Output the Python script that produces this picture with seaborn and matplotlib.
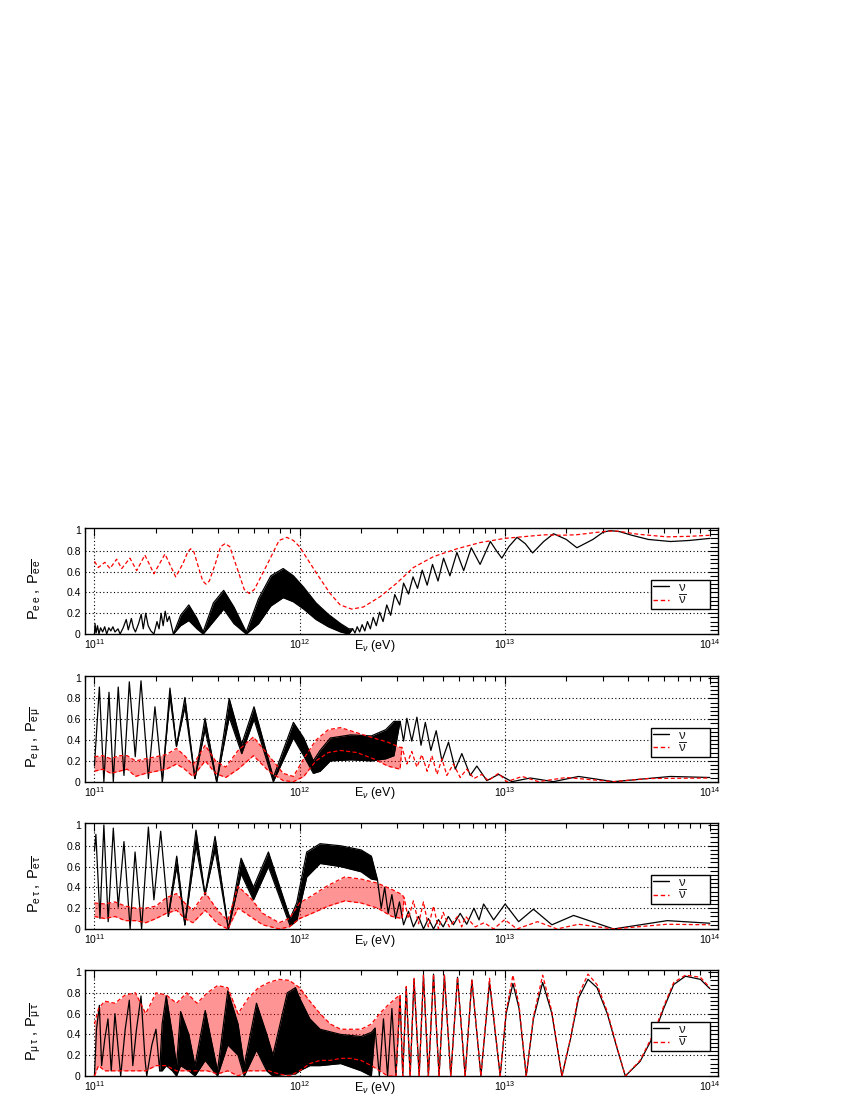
import numpy as np
import pandas as pd
import matplotlib
matplotlib.use("Agg")
import matplotlib.pyplot as plt
import seaborn as sns
from matplotlib.lines import Line2D
from matplotlib.ticker import LogLocator, MultipleLocator, FixedLocator, NullFormatter

# ---------------- data: (log10 E, value) or (log10 E, band_low, band_high) ----------------
EE_NU = [(11.0, 0.0), (11.003, 0.1), (11.008, 0.01), (11.015, 0.08), (11.022, 0.0), (11.03, 0.06),
         (11.04, 0.02), (11.05, 0.07), (11.06, 0.0), (11.07, 0.06), (11.08, 0.03), (11.09, 0.07),
         (11.1, 0.02), (11.115, 0.05), (11.125, 0.0), (11.14, 0.06), (11.155, 0.14), (11.165, 0.04),
         (11.18, 0.15), (11.19, 0.06), (11.2, 0.02), (11.215, 0.1), (11.228, 0.19), (11.238, 0.05),
         (11.25, 0.2), (11.262, 0.08), (11.275, 0.03), (11.29, 0.0), (11.305, 0.12), (11.315, 0.05),
         (11.325, 0.2), (11.335, 0.08), (11.345, 0.22), (11.355, 0.12), (11.365, 0.17), (11.385, 0.0),
         (11.42, 0.08, 0.18), (11.46, 0.13, 0.28), (11.5, 0.05, 0.15), (11.53, 0.0, 0.02),
         (11.58, 0.12, 0.3), (11.63, 0.24, 0.42), (11.68, 0.1, 0.26), (11.74, 0.0, 0.02),
         (11.8, 0.1, 0.34), (11.86, 0.27, 0.56), (11.92, 0.35, 0.63), (11.97, 0.31, 0.56),
         (12.02, 0.24, 0.45), (12.08, 0.14, 0.3), (12.14, 0.07, 0.19), (12.2, 0.02, 0.1),
         (12.24, 0.0, 0.05), (12.259, 0.05), (12.27, 0.01), (12.281, 0.07), (12.293, 0.02),
         (12.305, 0.09), (12.318, 0.03), (12.331, 0.12), (12.345, 0.05), (12.359, 0.16),
         (12.374, 0.08), (12.39, 0.21), (12.407, 0.12), (12.425, 0.28), (12.444, 0.18),
         (12.464, 0.38), (12.488, 0.28), (12.507, 0.49), (12.531, 0.385), (12.553, 0.55),
         (12.575, 0.44), (12.598, 0.615), (12.622, 0.47), (12.648, 0.67), (12.675, 0.51),
         (12.702, 0.73), (12.733, 0.56), (12.767, 0.785), (12.8, 0.61), (12.837, 0.83),
         (12.88, 0.67), (12.93, 0.89), (12.96, 0.8), (12.986, 0.73), (13.02, 0.84), (13.06, 0.93),
         (13.1, 0.87), (13.136, 0.78), (13.19, 0.89), (13.238, 0.965), (13.3, 0.91), (13.352, 0.83),
         (13.43, 0.91), (13.48, 0.98), (13.515, 0.995), (13.56, 0.985), (13.62, 0.95), (13.7, 0.91),
         (13.808, 0.89), (13.9, 0.9), (14.0, 0.92)]

EE_NUBAR = [(11.0, 0.7), (11.019, 0.64), (11.051, 0.69), (11.076, 0.63), (11.108, 0.72), (11.133, 0.63),
            (11.173, 0.73), (11.206, 0.61), (11.246, 0.76), (11.29, 0.58), (11.344, 0.77), (11.396, 0.55),
            (11.432, 0.68), (11.455, 0.79), (11.469, 0.82), (11.485, 0.79), (11.506, 0.65),
            (11.528, 0.51), (11.544, 0.48), (11.56, 0.51), (11.59, 0.68), (11.615, 0.84), (11.637, 0.87),
            (11.66, 0.84), (11.696, 0.63), (11.73, 0.43), (11.755, 0.39), (11.78, 0.43), (11.85, 0.7),
            (11.9, 0.9), (11.938, 0.93), (11.97, 0.9), (12.0, 0.84), (12.084, 0.58),
            (12.149, 0.39), (12.198, 0.28), (12.254, 0.24), (12.311, 0.26), (12.393, 0.36), (12.474, 0.49),
            (12.555, 0.64), (12.653, 0.745), (12.767, 0.82), (12.88, 0.88), (13.0, 0.92), (13.14, 0.945),
            (13.2, 0.955), (13.27, 0.95), (13.35, 0.955), (13.5, 0.99), (13.55, 0.99), (13.65, 0.96),
            (13.79, 0.935), (13.9, 0.94), (14.0, 0.95)]

EM_NU = [(11.0, 0.15), (11.024, 0.91), (11.046, 0.0), (11.071, 0.86), (11.092, 0.0), (11.116, 0.91),
         (11.144, 0.06), (11.17, 0.96), (11.199, 0.24), (11.227, 0.97), (11.263, 0.03), (11.295, 0.72),
         (11.331, 0.0), (11.368, 0.82, 0.9), (11.4, 0.34), (11.441, 0.72, 0.81), (11.49, 0.03),
         (11.539, 0.5, 0.61), (11.596, 0.0), (11.657, 0.62, 0.8), (11.718, 0.27, 0.36),
         (11.778, 0.6, 0.72), (11.872, 0.0, 0.04), (11.97, 0.42, 0.57), (12.02, 0.25, 0.42),
         (12.067, 0.08, 0.2), (12.1, 0.1, 0.3), (12.15, 0.2, 0.42), (12.25, 0.21, 0.45),
         (12.35, 0.2, 0.44), (12.42, 0.22, 0.5), (12.46, 0.25, 0.58), (12.49, 0.58), (12.507, 0.39),
         (12.523, 0.61), (12.547, 0.39), (12.572, 0.62), (12.592, 0.35), (12.613, 0.57), (12.64, 0.3),
         (12.666, 0.49), (12.694, 0.2), (12.726, 0.38), (12.759, 0.12), (12.791, 0.27), (12.832, 0.06),
         (12.864, 0.15), (12.913, 0.01), (12.97, 0.07), (13.035, 0.0), (13.125, 0.035), (13.238, 0.0),
         (13.36, 0.05), (13.531, 0.0), (13.808, 0.05), (14.0, 0.04)]

EM_NUBAR = [(11.0, 0.1, 0.24), (11.04, 0.12, 0.25), (11.08, 0.08, 0.22), (11.12, 0.1, 0.25),
            (11.16, 0.12, 0.25), (11.2, 0.05, 0.2), (11.25, 0.08, 0.22), (11.3, 0.1, 0.24),
            (11.35, 0.12, 0.26), (11.4, 0.17, 0.32), (11.44, 0.12, 0.25), (11.48, 0.05, 0.16),
            (11.54, 0.2, 0.35), (11.59, 0.08, 0.2), (11.64, 0.04, 0.14), (11.7, 0.12, 0.3),
            (11.775, 0.25, 0.43), (11.85, 0.1, 0.25), (11.92, 0.01, 0.08), (11.97, 0.0, 0.05),
            (12.02, 0.05, 0.22), (12.08, 0.2, 0.4), (12.14, 0.28, 0.5), (12.2, 0.3, 0.52),
            (12.28, 0.28, 0.47), (12.36, 0.22, 0.42), (12.43, 0.15, 0.38), (12.49, 0.12, 0.33),
            (12.499, 0.33), (12.523, 0.17), (12.547, 0.29), (12.572, 0.14), (12.596, 0.26), (12.622, 0.1),
            (12.645, 0.25), (12.67, 0.07), (12.694, 0.22), (12.718, 0.06), (12.75, 0.17), (12.783, 0.04),
            (12.815, 0.12), (12.85, 0.03), (12.888, 0.07), (12.92, 0.01), (12.97, 0.08), (13.01, 0.0),
            (13.085, 0.05), (13.165, 0.0), (13.3, 0.04), (13.531, 0.0), (13.7, 0.03), (14.0, 0.035)]

ET_NU = [(11.0, 0.75), (11.007, 0.91), (11.027, 0.1), (11.046, 1.0), (11.067, 0.07), (11.092, 0.97),
         (11.116, 0.21), (11.144, 0.84), (11.174, 0.0), (11.198, 0.74), (11.23, 0.0), (11.263, 0.98),
         (11.29, 0.28), (11.323, 0.94), (11.36, 0.12), (11.401, 0.6, 0.7), (11.441, 0.04),
         (11.495, 0.8, 0.95), (11.539, 0.33), (11.588, 0.76, 0.89), (11.653, 0.0), (11.715, 0.53, 0.68),
         (11.775, 0.28, 0.4), (11.848, 0.6, 0.74), (11.954, 0.03, 0.1), (11.986, 0.08, 0.25),
         (12.035, 0.5, 0.74), (12.1, 0.63, 0.82), (12.2, 0.6, 0.8), (12.3, 0.55, 0.76),
         (12.35, 0.48, 0.7), (12.38, 0.47), (12.398, 0.2), (12.415, 0.4), (12.432, 0.15), (12.45, 0.33),
         (12.468, 0.1), (12.487, 0.26), (12.507, 0.04), (12.531, 0.17), (12.555, 0.02), (12.58, 0.12),
         (12.604, 0.0), (12.628, 0.1), (12.653, 0.0), (12.677, 0.09), (12.7, 0.02), (12.725, 0.12),
         (12.75, 0.04), (12.783, 0.15), (12.815, 0.045), (12.85, 0.2), (12.875, 0.087), (12.897, 0.24),
         (12.946, 0.087), (13.002, 0.24), (13.068, 0.07), (13.14, 0.19), (13.23, 0.04), (13.336, 0.13),
         (13.531, 0.0), (13.792, 0.08), (14.0, 0.055)]

ET_NUBAR = [(11.0, 0.12, 0.25), (11.05, 0.1, 0.24), (11.1, 0.12, 0.26), (11.15, 0.08, 0.22),
            (11.2, 0.08, 0.2), (11.25, 0.06, 0.2), (11.3, 0.1, 0.22), (11.35, 0.15, 0.3),
            (11.4, 0.18, 0.34), (11.44, 0.1, 0.25), (11.48, 0.06, 0.18), (11.54, 0.18, 0.35),
            (11.6, 0.05, 0.18), (11.65, 0.0, 0.08), (11.7, 0.2, 0.41), (11.76, 0.12, 0.3),
            (11.82, 0.04, 0.15), (11.9, 0.0, 0.06), (11.95, 0.02, 0.1), (12.0, 0.1, 0.25),
            (12.06, 0.15, 0.32), (12.14, 0.22, 0.42), (12.22, 0.27, 0.5), (12.3, 0.25, 0.48),
            (12.38, 0.2, 0.44), (12.45, 0.12, 0.38), (12.5, 0.1, 0.33), (12.51, 0.3), (12.53, 0.1),
            (12.555, 0.27), (12.58, 0.05), (12.604, 0.26), (12.628, 0.02), (12.653, 0.22), (12.677, 0.0),
            (12.7, 0.16), (12.73, 0.02), (12.77, 0.12), (12.79, 0.02), (12.81, 0.12), (12.856, 0.02),
            (12.9, 0.06), (12.946, 0.0), (13.0, 0.09), (13.06, 0.0), (13.16, 0.07), (13.255, 0.0),
            (13.36, 0.045), (13.53, 0.0), (13.79, 0.045), (14.0, 0.04)]

MT_NU = [(11.0, 0.0), (11.01, 0.45), (11.024, 0.68), (11.035, 0.1), (11.05, 0.35), (11.066, 0.55),
         (11.082, 0.05), (11.1, 0.6), (11.128, 0.0), (11.15, 0.45), (11.17, 0.73), (11.187, 0.1),
         (11.205, 0.45), (11.227, 0.77), (11.247, 0.15), (11.255, 0.0), (11.28, 0.3), (11.3, 0.45),
         (11.318, 0.05), (11.33, 0.05, 0.5), (11.35, 0.1, 0.77), (11.38, 0.05, 0.4), (11.4, 0.0, 0.1),
         (11.42, 0.1, 0.62), (11.46, 0.05, 0.4), (11.49, 0.0, 0.1), (11.54, 0.15, 0.63), (11.6, 0.0, 0.05),
         (11.65, 0.3, 0.82), (11.7, 0.2, 0.5), (11.73, 0.0, 0.1), (11.79, 0.25, 0.7), (11.84, 0.05, 0.4),
         (11.87, 0.0, 0.2), (11.94, 0.02, 0.8), (11.98, 0.02, 0.85), (12.0, 0.05, 0.75),
         (12.05, 0.1, 0.55), (12.1, 0.1, 0.45), (12.2, 0.12, 0.4), (12.3, 0.05, 0.38), (12.35, 0.0, 0.42),
         (12.368, 0.46), (12.389, 0.0), (12.409, 0.55), (12.429, 0.0), (12.45, 0.65), (12.47, 0.0),
         (12.49, 0.75), (12.503, 0.0), (12.52, 0.85), (12.539, 0.0), (12.558, 0.93), (12.583, 0.0),
         (12.604, 0.97), (12.628, 0.0), (12.653, 0.98), (12.68, 0.0), (12.706, 0.97), (12.737, 0.0),
         (12.77, 0.95), (12.807, 0.0), (12.84, 0.92), (12.884, 0.0), (12.926, 0.9), (12.978, 0.0),
         (13.007, 0.6), (13.04, 0.89), (13.07, 0.65), (13.105, 0.0), (13.14, 0.55), (13.185, 0.9),
         (13.23, 0.6), (13.279, 0.0), (13.32, 0.35), (13.36, 0.75), (13.406, 0.93), (13.45, 0.85),
         (13.5, 0.6), (13.55, 0.25), (13.588, 0.0), (13.66, 0.14), (13.726, 0.39), (13.775, 0.65),
         (13.824, 0.88), (13.881, 0.96), (13.954, 0.93), (14.0, 0.84)]

MT_NUBAR = [(11.0, 0.0, 0.5), (11.02, 0.1, 0.65), (11.05, 0.05, 0.72), (11.1, 0.05, 0.7),
            (11.15, 0.05, 0.78), (11.2, 0.05, 0.8), (11.25, 0.05, 0.6), (11.3, 0.1, 0.8),
            (11.35, 0.1, 0.78), (11.4, 0.05, 0.7), (11.45, 0.05, 0.8), (11.5, 0.05, 0.7),
            (11.55, 0.05, 0.8), (11.6, 0.02, 0.87), (11.65, 0.05, 0.85), (11.7, 0.0, 0.6),
            (11.75, 0.05, 0.75), (11.8, 0.05, 0.85), (11.85, 0.05, 0.9), (11.9, 0.02, 0.93),
            (11.95, 0.0, 0.92), (12.0, 0.05, 0.85), (12.05, 0.12, 0.72), (12.1, 0.15, 0.6),
            (12.15, 0.15, 0.5), (12.2, 0.17, 0.45), (12.25, 0.17, 0.45), (12.3, 0.15, 0.45),
            (12.35, 0.1, 0.5), (12.39, 0.05, 0.6), (12.43, 0.0, 0.68), (12.47, 0.0, 0.75),
            (12.49, 0.78), (12.503, 0.0), (12.52, 0.86), (12.539, 0.0), (12.558, 0.94), (12.583, 0.0),
            (12.604, 0.97), (12.628, 0.0), (12.653, 0.98), (12.68, 0.0), (12.706, 0.97), (12.737, 0.0),
            (12.77, 0.95), (12.807, 0.0), (12.84, 0.93), (12.884, 0.0), (12.926, 0.94), (12.978, 0.0),
            (13.007, 0.62), (13.04, 0.97), (13.07, 0.68), (13.105, 0.0), (13.14, 0.57), (13.185, 0.97),
            (13.23, 0.62), (13.279, 0.0), (13.32, 0.36), (13.36, 0.78), (13.406, 0.98), (13.45, 0.88),
            (13.5, 0.62), (13.55, 0.26), (13.588, 0.0), (13.66, 0.15), (13.726, 0.41), (13.775, 0.67),
            (13.824, 0.9), (13.881, 0.97), (13.954, 0.95), (14.0, 0.85)]

YLABELS = [r'$\mathrm{P_{e\,e}\;,\;P_{\overline{e}\,\overline{e}}}$',
           r'$\mathrm{P_{e\,\mu}\;,\;P_{\overline{e}\,\overline{\mu}}}$',
           r'$\mathrm{P_{e\,\tau}\;,\;P_{\overline{e}\,\overline{\tau}}}$',
           r'$\mathrm{P_{\mu\,\tau}\;,\;P_{\overline{\mu}\,\overline{\tau}}}$']
LEGEND_LABELS = [r'$\mathrm{\nu}$', r'$\overline{\mathrm{\nu}}$']
XTICK_EXP = [11, 12, 13, 14]
YTICKS = [0, 0.2, 0.4, 0.6, 0.8, 1.0]
YTICK_LABELS = ['0', '0.2', '0.4', '0.6', '0.8', '1']

# ---------------- styling ----------------
sns.set_theme(style="white")
plt.rcParams['font.family'] = ['Liberation Sans', 'DejaVu Sans']
plt.rcParams['mathtext.fontset'] = 'custom'
plt.rcParams['mathtext.rm'] = 'Liberation Sans'
plt.rcParams['mathtext.it'] = 'Liberation Sans:italic'
plt.rcParams['mathtext.bf'] = 'Liberation Sans:bold'
plt.rcParams['lines.dashed_pattern'] = [3.2, 2.0]

LW = 0.9
fig = plt.figure(figsize=(8.5, 11), dpi=100)
fig.patch.set_facecolor('white')

AX_LEFT, AX_W, AX_H = 0.1, 0.745, 0.0964
BOTTOMS = [0.4236, 0.2894, 0.1555, 0.0218]
XMIN, XMAX = 10 ** 10.954, 10 ** 14.041


def split(pts):
    x = np.array([p[0] for p in pts], dtype=float)
    lo = np.array([p[1] for p in pts], dtype=float)
    hi = np.array([p[-1] for p in pts], dtype=float)
    return 10.0 ** x, lo, hi


def band_segments(lo, hi):
    band = hi > lo + 1e-9
    segs, start = [], None
    n = len(lo)
    for i in range(n):
        if band[i] and start is None:
            start = max(i - 1, 0)
        if not band[i] and start is not None:
            segs.append((start, i))
            start = None
    if start is not None:
        segs.append((start, n - 1))
    return segs


def draw_fill(ax, pts, color, alpha, z):
    E, lo, hi = split(pts)
    ax.fill_between(E, lo, hi, color=color, alpha=alpha, lw=0, zorder=z)


def draw_lines(ax, pts, color, ls, z):
    E, lo, hi = split(pts)
    sns.lineplot(x=E, y=hi, ax=ax, color=color, lw=LW, linestyle=ls, sort=False,
                 estimator=None, zorder=z)
    for s, e in band_segments(lo, hi):
        sns.lineplot(x=E[s:e + 1], y=lo[s:e + 1], ax=ax, color=color, lw=LW, linestyle=ls,
                     sort=False, estimator=None, zorder=z)


PANELS = [(EE_NU, EE_NUBAR), (EM_NU, EM_NUBAR), (ET_NU, ET_NUBAR), (MT_NU, MT_NUBAR)]

for k, (nu, nubar) in enumerate(PANELS):
    ax = fig.add_axes([AX_LEFT, BOTTOMS[k], AX_W, AX_H])
    ax.set_xscale('log')
    ax.set_xlim(XMIN, XMAX)
    ax.set_ylim(0, 1.02)

    # dotted grid at major ticks
    for yv in YTICKS[1:-1]:
        ax.axhline(yv, color='black', lw=0.8, linestyle=(0, (1, 2.2)), zorder=1)
    for ex in XTICK_EXP[:-1]:
        ax.axvline(10.0 ** ex, color='black', lw=0.8, linestyle=(0, (1, 2.2)), zorder=1)

    draw_fill(ax, nubar, 'red', 0.42, 2)
    draw_fill(ax, nu, 'black', 1.0, 3)
    draw_lines(ax, nu, 'black', '-', 4)
    draw_lines(ax, nubar, 'red', '--', 5)

    ax.xaxis.set_major_locator(FixedLocator([10.0 ** e for e in XTICK_EXP]))
    ax.set_xticklabels([r'$10^{%d}$' % e for e in XTICK_EXP])
    ax.xaxis.set_minor_locator(LogLocator(base=10, subs=np.arange(2, 10)))
    ax.xaxis.set_minor_formatter(NullFormatter())
    ax.set_yticks(YTICKS)
    ax.set_yticklabels(YTICK_LABELS)
    ax.yaxis.set_minor_locator(MultipleLocator(0.04))
    ax.tick_params(which='both', direction='in', top=True, right=True, labelsize=7.5,
                   width=0.8, color='black', labelcolor='black')
    ax.tick_params(axis='y', which='major', length=7, pad=3)
    ax.tick_params(axis='y', which='minor', length=6)
    ax.tick_params(axis='x', which='major', length=6, pad=2.5)
    ax.tick_params(axis='x', which='minor', length=3.5)
    for sp in ax.spines.values():
        sp.set_color('black')
        sp.set_linewidth(1.0)
        sp.set_visible(True)

    ax.set_xlabel('')
    ax.set_ylabel(YLABELS[k], fontsize=10.5, color='black')
    ax.yaxis.set_label_coords(-0.066, 0.42)
    ax.text(0.425, -0.035, r'E$_{\nu}$ (eV)', transform=ax.transAxes, ha='left', va='top',
            fontsize=9, color='black')

    handles = [Line2D([], [], color='black', lw=1.0),
               Line2D([], [], color='red', lw=1.0, linestyle='--')]
    leg = ax.legend(handles, LEGEND_LABELS, loc='lower left',
                    bbox_to_anchor=(0.894, 0.236, 0.093, 0.246), mode='expand',
                    frameon=True, fancybox=False, edgecolor='black', framealpha=1, fontsize=9.5,
                    handlelength=1.2, borderpad=0.12, labelspacing=0.0, handletextpad=0.7,
                    borderaxespad=0)
    leg.get_frame().set_linewidth(1.0)
    leg.set_zorder(10)

fig.savefig('out.png', dpi=100, facecolor='white')
